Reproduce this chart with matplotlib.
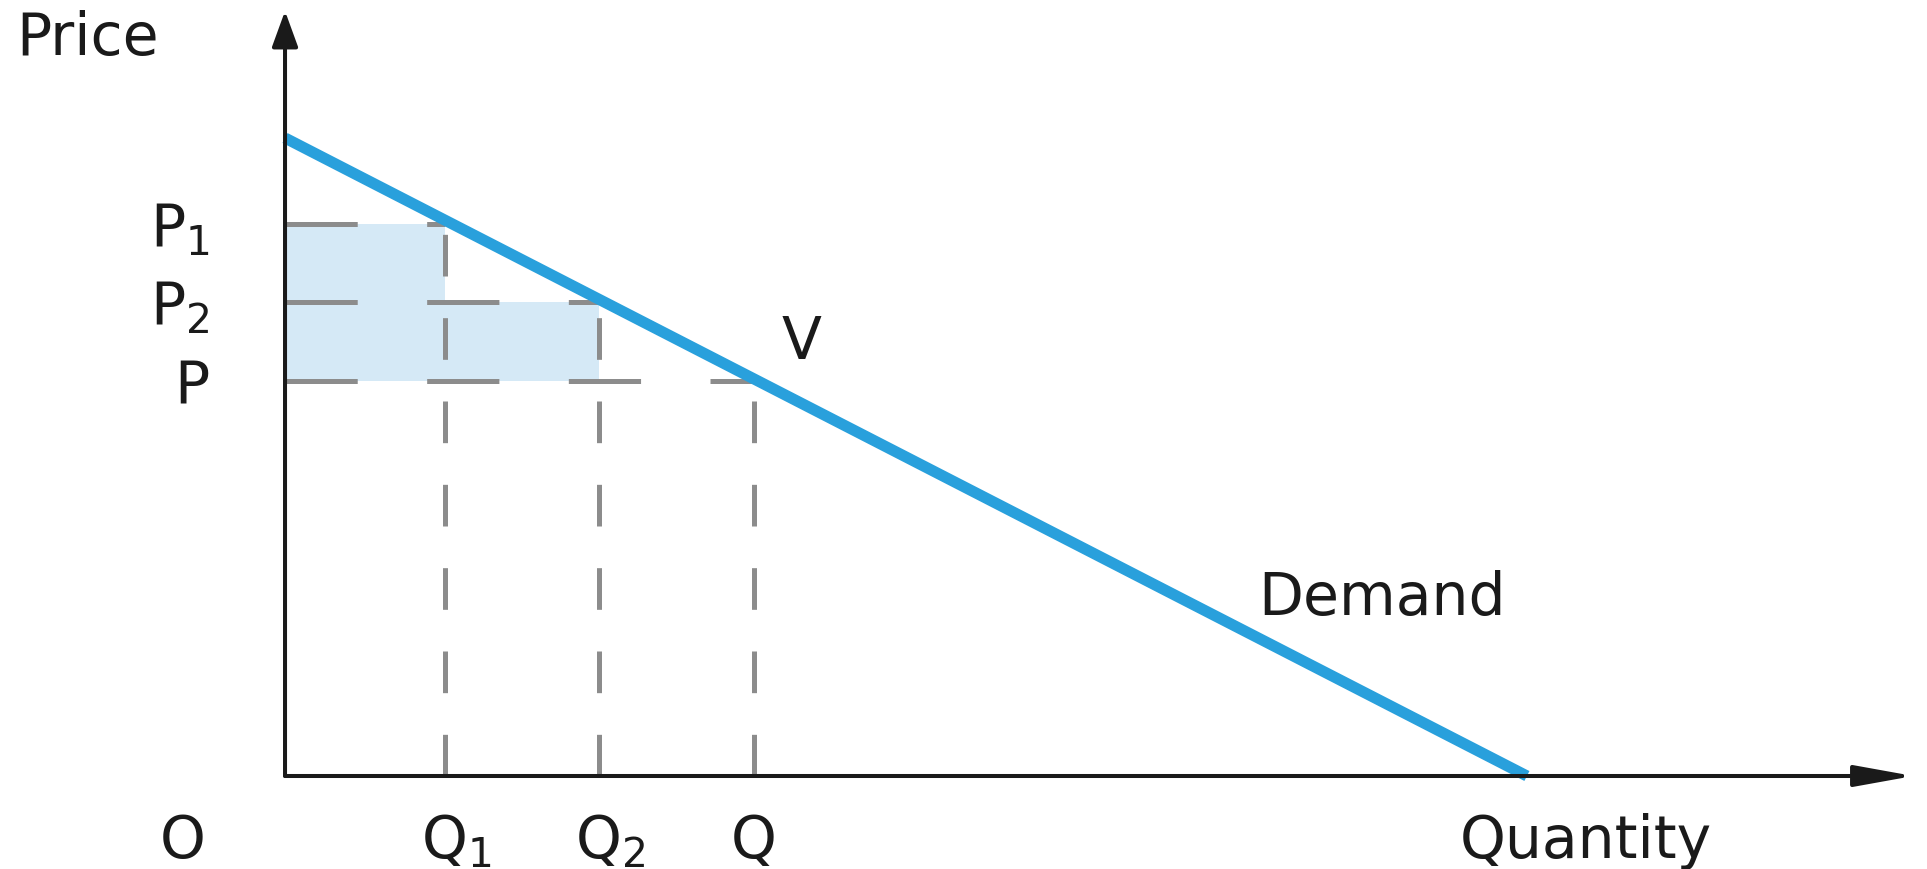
import matplotlib
matplotlib.use('Agg')
import matplotlib.pyplot as plt

plt.rcParams['lines.scale_dashes'] = False
plt.rcParams['mathtext.fontset'] = 'dejavusans'

# demand curve (quantity, price)
demand_q = [0, 77.6]
demand_p = [63.8, 0]

# the three price / quantity pairs
quantities = [10.0, 19.6, 29.3]
prices = [55.2, 47.4, 39.5]
q_labels = [r'$\mathregular{Q_1}$', r'$\mathregular{Q_2}$', 'Q']
p_labels = [r'$\mathregular{P_1}$', r'$\mathregular{P_2}$', 'P']

ink = '#1a1a1a'
dash_grey = '#8c8c8c'
blue = '#29a0dc'
shade = '#d5e9f6'
fs = 42

fig = plt.figure(figsize=(19.27, 8.70), dpi=100)
ax = fig.add_axes([0, 0, 1, 1])
ax.set_xlim(-17.81, 102.6)
ax.set_ylim(-9.3, 77.7)
ax.axis('off')

# shaded areas between P and the higher prices
ax.fill_between([0, quantities[0]], prices[2], prices[0], color=shade, lw=0, zorder=1)
ax.fill_between([quantities[0], quantities[1]], prices[2], prices[1], color=shade, lw=0, zorder=1)

# dashed guide lines
for q, p in zip(quantities, prices):
    ax.plot([0, q], [p, p], color=dash_grey, lw=3.6, dashes=(52, 50), zorder=2,
            dash_capstyle='butt')
    ax.plot([q, q], [0, p], color=dash_grey, lw=3.6, dashes=(30, 30), zorder=2,
            dash_capstyle='butt')

# demand line
ax.plot(demand_q, demand_p, color=blue, lw=8, solid_capstyle='butt', zorder=3)

# axes with arrows
ax.annotate('', xy=(101.75, 0), xytext=(0, 0),
            arrowprops=dict(arrowstyle='-|>,head_length=36,head_width=6.5',
                            mutation_scale=1, lw=2.9, color=ink,
                            shrinkA=0, shrinkB=0), zorder=4)
ax.annotate('', xy=(0, 76.5), xytext=(0, 0),
            arrowprops=dict(arrowstyle='-|>,head_length=22,head_width=8',
                            mutation_scale=1, lw=2.9, color=ink,
                            shrinkA=0, shrinkB=0), zorder=4)

# labels
ax.text(-16.8, 72.2, 'Price', fontsize=fs, color=ink, ha='left', va='baseline')
ax.text(-6.4, -8.1, 'O', fontsize=fs, color=ink, ha='center', va='baseline')
ax.text(73.4, -8.1, 'Quantity', fontsize=fs, color=ink, ha='left', va='baseline')
ax.text(60.8, 16.2, 'Demand', fontsize=fs, color=ink, ha='left', va='baseline')
ax.text(32.25, 41.8, 'V', fontsize=fs, color=ink, ha='center', va='baseline')

for q, lab in zip(quantities, q_labels):
    ax.annotate(lab, xy=(q, -8.1), xytext=(-17, 0), textcoords='offset points',
                fontsize=fs, color=ink, ha='left', va='baseline')
for p, lab in zip(prices, p_labels):
    ax.text(-4.7, p - 2.1, lab, fontsize=fs, color=ink, ha='right', va='baseline')

fig.savefig('out.png', dpi=100, facecolor='white')
